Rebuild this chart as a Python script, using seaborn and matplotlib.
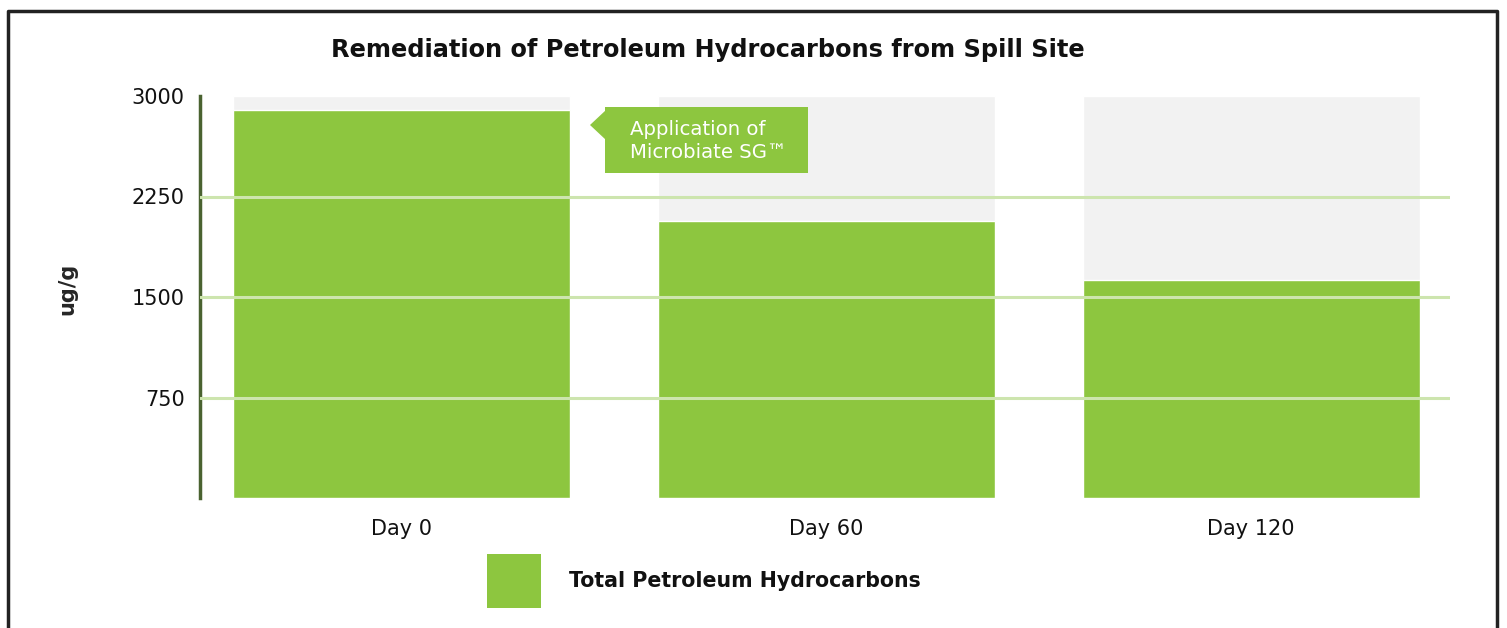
import numpy as np
import pandas as pd
import seaborn as sns
import matplotlib
matplotlib.use("Agg")
from matplotlib import pyplot as plt
from matplotlib.patches import Polygon, Rectangle

# data
days = ["Day 0", "Day 60", "Day 120"]
tph = [2895, 2065, 1625]
scale_max = [3000, 3000, 3000]
yticks = [750, 1500, 2250, 3000]

GREEN = "#8dc63f"
GRID = "#cde5ae"
AXIS = "#4a6230"
BACK = "#f2f2f2"

sns.set_style("white")
plt.rcParams['font.family'] = ['DejaVu Sans']

df = pd.DataFrame({"day": days, "tph": tph, "full": scale_max})

W, H = 1507, 628
fig = plt.figure(figsize=(W / 100, H / 100), dpi=100)
ax = fig.add_axes([200 / W, 1 - 498 / H, 1250 / W, 402 / H])

sns.barplot(data=df, x="day", y="full", color=BACK, width=0.793, saturation=1, ax=ax, zorder=1)
sns.barplot(data=df, x="day", y="tph", color=GREEN, width=0.793, saturation=1, ax=ax, zorder=2)

ax.set_xlim(-0.473, 2.468)
ax.set_ylim(0, 3000)
ax.set_yticks(yticks)
for t in yticks[:-1]:
    ax.axhline(t, color=GRID, lw=2.2, zorder=3)

for s in ["top", "right", "bottom"]:
    ax.spines[s].set_visible(False)
ax.spines["left"].set_color(AXIS)
ax.spines["left"].set_linewidth(2.5)
ax.tick_params(axis="both", length=0, labelsize=15, colors="#111111")
ax.tick_params(axis="y", pad=11)
ax.tick_params(axis="x", pad=15)
ax.set_xlabel("")
ax.set_ylabel("ug/g", fontsize=15, fontweight="bold", labelpad=0)
ax.yaxis.set_label_coords(-0.098, 0.52)

fig.text(708 / W, 1 - 50 / H, "Remediation of Petroleum Hydrocarbons from Spill Site",
         ha="center", va="center", fontsize=17.3, fontweight="bold", color="#111111")

# annotation callout
fig.add_artist(Rectangle((605 / W, 1 - 173 / H), 203 / W, 66 / H,
                         transform=fig.transFigure, color=GREEN, lw=0, zorder=5))
fig.add_artist(Polygon([(606 / W, 1 - 110 / H), (590 / W, 1 - 125 / H), (606 / W, 1 - 140 / H)],
                       closed=True, transform=fig.transFigure, color=GREEN, lw=0, zorder=5))
fig.text(630 / W, 1 - 141 / H, "Application of\nMicrobiate SG™", ha="left", va="center",
         fontsize=14.2, color="white", linespacing=1.3, zorder=6)

# legend
fig.add_artist(Rectangle((487 / W, 1 - 608 / H), 54 / W, 54 / H,
                         transform=fig.transFigure, color=GREEN, lw=0))
fig.text(569 / W, 1 - 581 / H, "Total Petroleum Hydrocarbons", ha="left", va="center",
         fontsize=14.8, fontweight="bold", color="#111111")

# outer frame
fig.add_artist(plt.Line2D([8 / W, 8 / W, 1497 / W, 1497 / W], [0, 1 - 11 / H, 1 - 11 / H, 0],
                          transform=fig.transFigure, color="#222222", lw=2.5))

fig.savefig("out.png", dpi=100)
